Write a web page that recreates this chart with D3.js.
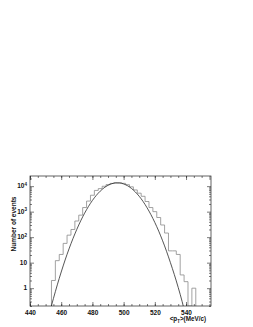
<!DOCTYPE html>
<html>
<head>
<meta charset="utf-8">
<script src="https://cdn.jsdelivr.net/npm/d3@7"></script>
<style>
  body { margin: 0; background: #fff; }
  text { font-family: "Liberation Sans", Arial, sans-serif; font-weight: bold; fill: #111; }
  .axis path { display: none; }
  .axis line { stroke: #222; stroke-width: 0.6; }
</style>
</head>
<body>
<div id="chart"></div>
<script>

//histogram bins (lower edge, MeV/c) and counts
var binLow = [453.75, 456.25, 458.75, 461.25, 463.75, 466.25, 468.75, 471.25, 473.75, 476.25,
              478.75, 481.25, 483.75, 486.25, 488.75, 491.25, 493.75, 496.25, 498.75, 501.25,
              503.75, 506.25, 508.75, 511.25, 513.75, 516.25, 518.75, 521.25, 523.75, 526.25,
              528.75, 531.25, 533.75, 536.25, 538.75, 541.25, 543.75];
var binWidth = 2.5;
var counts = [2, 12, 21, 57, 120, 200, 430, 730, 1450, 2600,
              4400, 6800, 8000, 9900, 11500, 12800, 13500, 13500, 12900, 11400,
              9400, 7100, 5300, 4000, 2500, 1450, 1000, 590, 300, 145,
              29, 29, 21, 3.3, 1.8, 0, 1];

//fitted curve
var fitX = [452.5, 455, 457.5, 460, 462.5, 465, 467.5, 470, 472.5, 475, 477.5, 480, 482.5, 485,
            487.5, 490, 492.5, 495, 497.5, 500, 502.5, 505, 507.5, 510, 512.5, 515, 517.5, 520,
            522.5, 525, 527.5, 530, 532.5, 535, 537.5, 540];
var fitY = [0.11, 0.39, 1.35, 4.3, 12.7, 34.5, 87, 202, 437, 872, 1610, 2750, 4360, 6360,
            8620, 10800, 12500, 13400, 13300, 12200, 10400, 8160, 5930, 4000, 2490, 1430, 763, 377,
            172, 72, 28, 10, 3.4, 1.06, 0.3, 0.07];

//axis ticks
var xTicks = [440, 460, 480, 500, 520, 540];
var yTicks = [1, 10, 100, 1000, 10000];
var yBase = ["1", "10", "10", "10", "10"];
var yExp = ["", "", "2", "3", "4"];

var W = 253, H = 327;
var pLeft = 30, pRight = 211, pTop = 176, pBottom = 306;

var svg = d3.select("#chart").append("svg")
    .attr("width", W)
    .attr("height", H);

var x = d3.scaleLinear().domain([440, 556]).range([pLeft, pRight]);
var y = d3.scaleLog().domain([0.2, 25000]).range([pBottom, pTop]);

svg.append("clipPath").attr("id", "clip")
  .append("rect")
    .attr("x", pLeft).attr("y", pTop)
    .attr("width", pRight - pLeft).attr("height", pBottom - pTop);

function yv(v) { return v > 0.2 ? y(v) : pBottom; }

//histogram outline
var pts = [[binLow[0], 0]];
binLow.forEach(function(b, i) { pts.push([b, counts[i]]); });
pts.push([binLow[binLow.length - 1] + binWidth, 0]);

var step = d3.line()
    .x(function(d) { return x(d[0]); })
    .y(function(d) { return yv(d[1]); })
    .curve(d3.curveStepAfter);

svg.append("path")
    .attr("clip-path", "url(#clip)")
    .attr("d", step(pts))
    .attr("fill", "none")
    .attr("stroke", "#8a8a8a")
    .attr("stroke-width", 0.8);

//fit curve
var fit = d3.line()
    .x(function(d, i) { return x(fitX[i]); })
    .y(function(d) { return y(d); })
    .curve(d3.curveMonotoneX);

svg.append("path")
    .attr("clip-path", "url(#clip)")
    .attr("d", fit(fitY))
    .attr("fill", "none")
    .attr("stroke", "#2a2a2a")
    .attr("stroke-width", 0.8);

//frame
svg.append("rect")
    .attr("x", pLeft).attr("y", pTop)
    .attr("width", pRight - pLeft).attr("height", pBottom - pTop)
    .attr("fill", "none")
    .attr("stroke", "#222")
    .attr("stroke-width", 0.7);

//x ticks, bottom and top
var xMinor = d3.range(440, 556, 5);
svg.append("g").attr("class", "axis")
    .attr("transform", "translate(0," + pBottom + ")")
    .call(d3.axisBottom(x).tickValues(xMinor).tickSize(-2).tickFormat(""));
svg.append("g").attr("class", "axis")
    .attr("transform", "translate(0," + pBottom + ")")
    .call(d3.axisBottom(x).tickValues(xTicks).tickSize(-4).tickPadding(4))
    .selectAll("text").style("font-size", "6.5px").style("font-weight", "bold")
    .style("font-family", "Liberation Sans, Arial, sans-serif");
svg.append("g").attr("class", "axis")
    .attr("transform", "translate(0," + pTop + ")")
    .call(d3.axisTop(x).tickValues(xMinor).tickSize(-2).tickFormat(""));
svg.append("g").attr("class", "axis")
    .attr("transform", "translate(0," + pTop + ")")
    .call(d3.axisTop(x).tickValues(xTicks).tickSize(-4).tickFormat(""));

//y ticks, left and right
var yMinor = y.ticks().filter(function(v) { return yTicks.indexOf(v) < 0; });
[[d3.axisLeft, pLeft], [d3.axisRight, pRight]].forEach(function(a) {
  svg.append("g").attr("class", "axis")
      .attr("transform", "translate(" + a[1] + ",0)")
      .call(a[0](y).tickValues(yMinor).tickSize(-2).tickFormat(""));
  svg.append("g").attr("class", "axis")
      .attr("transform", "translate(" + a[1] + ",0)")
      .call(a[0](y).tickValues(yTicks).tickSize(-4).tickFormat(""));
});

//y tick labels with exponents
var yl = svg.selectAll(".ylab")
    .data(yTicks)
    .enter()
    .append("text")
    .attr("class", "ylab")
    .attr("x", pLeft - 3)
    .attr("y", function(d) { return y(d) + 2.3; })
    .style("font-size", "6.5px")
    .style("text-anchor", "end");
yl.append("tspan").text(function(d, i) { return yBase[i]; });
yl.append("tspan")
    .attr("dy", -2.8)
    .style("font-size", "4.5px")
    .text(function(d, i) { return yExp[i]; });

//axis titles
var xt = svg.append("text")
    .attr("x", 206)
    .attr("y", 321)
    .style("font-size", "6.3px")
    .style("text-anchor", "end");
xt.append("tspan").text("<p");
xt.append("tspan").attr("dy", 1.5).style("font-size", "4.5px").text("T");
xt.append("tspan").attr("dy", -1.5).text(">(MeV/c)");

svg.append("text")
    .attr("transform", "translate(16,224) rotate(-90)")
    .style("font-size", "6.5px")
    .style("text-anchor", "middle")
    .text("Number of events");

</script>
</body>
</html>
